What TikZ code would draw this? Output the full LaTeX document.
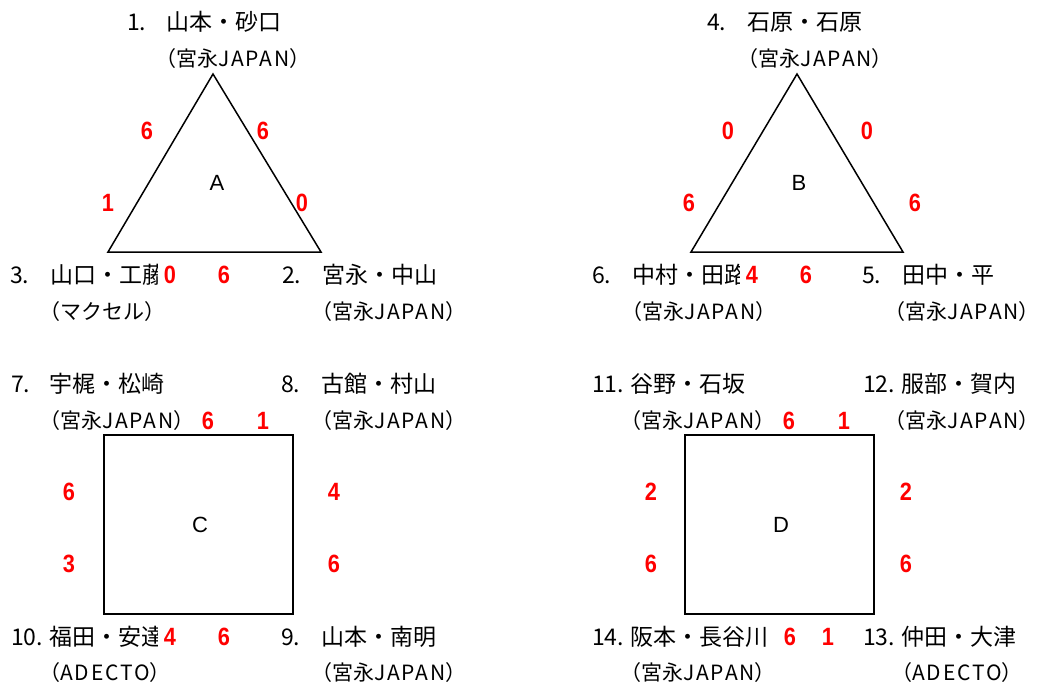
\documentclass[tikz,border=0pt]{standalone}
\usepackage{fontspec}
\newfontfamily\jp{Noto Sans CJK JP}
\newfontfamily\numfont{Liberation Sans}
\newfontfamily\rnfont{Liberation Sans}[FakeStretch=0.87]
\newcommand{\lat}[1]{{\addfontfeature{LetterSpace=9}#1}}
\newcommand{\rparen}{）\kern-9pt}
\tikzset{
  nm/.style={anchor=west, inner sep=0pt, font=\jp\fontsize{23}{23}\selectfont},
  sub/.style={anchor=west, inner sep=0pt, font=\jp\fontsize{21}{21}\selectfont},
  rn/.style={text=red, inner sep=0pt, font=\rnfont\bfseries\fontsize{25}{25}\selectfont},
  rnclip/.style={rn, fill=white, inner xsep=5.5pt, inner ysep=4pt},
  ctr/.style={inner sep=0pt, font=\numfont\fontsize{22}{22}\selectfont},
  edge/.style={line width=1.5pt, line join=miter},
  sq/.style={draw, line width=1.5pt, minimum width=189pt, minimum height=179pt, inner sep=0pt}
}
\begin{document}
\begin{tikzpicture}[x=1pt, y=-1pt]
\useasboundingbox (0,0) rectangle (1043,682);
% ---------- Triangle A ----------
\coordinate (At) at (213,74);
\coordinate (Al) at (108,252);
\coordinate (Ar) at (321,252);
\draw[edge] (At) -- (Ar) -- (Al) -- cycle;
\node[ctr] (Alab) at (217,183) {A};
\node[nm] (n1) at (127,22) {1.};
\node[nm] (m1) at (166,22) {山本・砂口};
\node[sub] (s1) at (155,59) {（宮永\lat{JAPAN}\rparen};
\node[nm] (n3) at (10,275) {3.};
\node[nm] (m3) at (50,275) {山口・工藤};
\node[sub] (s3) at (39,312) {（マクセル\rparen};
\node[nm] (n2) at (282,275) {2.};
\node[nm] (m2) at (322,275) {宮永・中山};
\node[sub] (s2) at (311,312) {（宮永\lat{JAPAN}\rparen};
\node[rn] (a1) at (147,131) {6};
\node[rn] (a2) at (263,131) {6};
\node[rn] (a3) at (108,203) {1};
\node[rn] (a4) at (302,203) {0};
\node[rnclip] (a5) at (170,275) {0};
\node[rn] (a6) at (224,275) {6};
% ---------- Triangle B ----------
\coordinate (Bt) at (797,74);
\coordinate (Bl) at (691,252);
\coordinate (Br) at (903,252);
\draw[edge] (Bt) -- (Br) -- (Bl) -- cycle;
\node[ctr] (Blab) at (799,183) {B};
\node[nm] (n4) at (707,22) {4.};
\node[nm] (m4) at (747,22) {石原・石原};
\node[sub] (s4) at (737,59) {（宮永\lat{JAPAN}\rparen};
\node[nm] (n6) at (592,275) {6.};
\node[nm] (m6) at (632,275) {中村・田路};
\node[sub] (s6) at (621,312) {（宮永\lat{JAPAN}\rparen};
\node[nm] (n5) at (862,275) {5.};
\node[nm] (m5) at (902,275) {田中・平};
\node[sub] (s5) at (884,312) {（宮永\lat{JAPAN}\rparen};
\node[rn] (b1) at (728,131) {0};
\node[rn] (b2) at (867,131) {0};
\node[rn] (b3) at (689,203) {6};
\node[rn] (b4) at (915,203) {6};
\node[rnclip] (b5) at (752,275) {4};
\node[rn] (b6) at (806,275) {6};
% ---------- Square C ----------
\node[sq] (C) at (198.5,524.5) {};
\node[ctr] (Clab) at (200,525) {C};
\node[nm] (n7) at (11,384) {7.};
\node[nm] (m7) at (49,384) {宇梶・松崎};
\node[sub] (s7) at (39,421) {（宮永\lat{JAPAN}\rparen};
\node[nm] (n8) at (281,384) {8.};
\node[nm] (m8) at (321,384) {古館・村山};
\node[sub] (s8) at (311,421) {（宮永\lat{JAPAN}\rparen};
\node[nm] (n10) at (11,637) {10.};
\node[nm] (m10) at (49,637) {福田・安達};
\node[sub] (s10) at (39,673) {（\lat{ADECTO}\rparen};
\node[nm] (n9) at (281,637) {9.};
\node[nm] (m9) at (321,637) {山本・南明};
\node[sub] (s9) at (311,673) {（宮永\lat{JAPAN}\rparen};
\node[rn] (c1) at (208,421) {6};
\node[rn] (c2) at (263,421) {1};
\node[rn] (c3) at (69,492) {6};
\node[rn] (c4) at (69,564) {3};
\node[rn] (c5) at (334,492) {4};
\node[rn] (c6) at (334,564) {6};
\node[rnclip] (c7) at (170,637) {4};
\node[rn] (c8) at (224,637) {6};
% ---------- Square D ----------
\node[sq] (D) at (779.5,524.5) {};
\node[ctr] (Dlab) at (781,525) {D};
\node[nm] (n11) at (592,384) {11.};
\node[nm] (m11) at (630,384) {谷野・石坂};
\node[sub] (s11) at (620,421) {（宮永\lat{JAPAN}\rparen};
\node[nm] (n12) at (863,384) {12.};
\node[nm] (m12) at (901,384) {服部・賀内};
\node[sub] (s12) at (884,421) {（宮永\lat{JAPAN}\rparen};
\node[nm] (n14) at (592,637) {14.};
\node[nm] (m14) at (630,637) {阪本・長谷川};
\node[sub] (s14) at (620,673) {（宮永\lat{JAPAN}\rparen};
\node[nm] (n13) at (863,637) {13.};
\node[nm] (m13) at (901,637) {仲田・大津};
\node[sub] (s13) at (891,673) {（\lat{ADECTO}\rparen};
\node[rn] (d1) at (789,421) {6};
\node[rn] (d2) at (844,421) {1};
\node[rn] (d3) at (651,492) {2};
\node[rn] (d4) at (651,564) {6};
\node[rn] (d5) at (906,492) {2};
\node[rn] (d6) at (906,564) {6};
\node[rn] (d7) at (790,637) {6};
\node[rn] (d8) at (828,637) {1};
\end{tikzpicture}
\end{document}
